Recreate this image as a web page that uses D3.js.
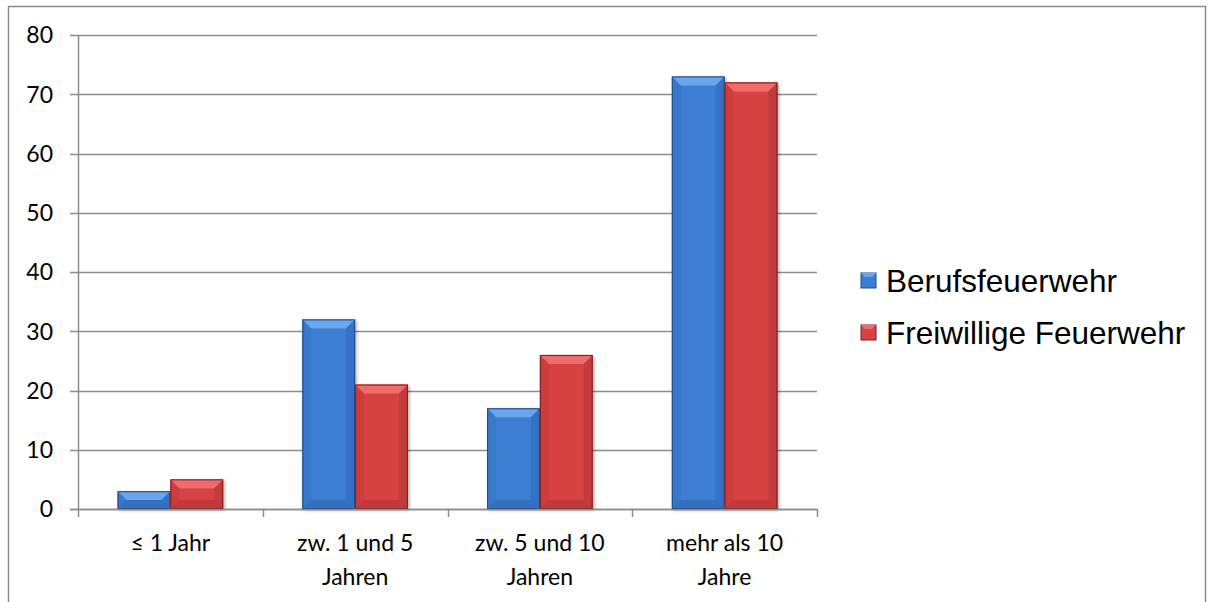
<!DOCTYPE html>
<html><head><meta charset="utf-8">
<script src="https://cdn.jsdelivr.net/npm/d3@7"></script>
<style>body{margin:0;background:#fff}svg{display:block}</style>
</head><body>
<script>
const categories = ["≤ 1 Jahr", "zw. 1 und 5 Jahren", "zw. 5 und 10 Jahren", "mehr als 10 Jahre"];
const categoryLines = [["≤ 1 Jahr"], ["zw. 1 und 5", "Jahren"], ["zw. 5 und 10", "Jahren"], ["mehr als 10", "Jahre"]];
const seriesNames = ["Berufsfeuerwehr", "Freiwillige Feuerwehr"];
const berufsfeuerwehr = [3, 32, 17, 73];
const freiwilligeFeuerwehr = [5, 21, 26, 72];
const yTicks = [0, 10, 20, 30, 40, 50, 60, 70, 80];

(function () {
const W = 1210, H = 602;
const svg = d3.select("body").append("svg").attr("width", W).attr("height", H);

svg.append("rect").attr("x", 8.5).attr("y", 6.5).attr("width", 1197).attr("height", 610)
  .attr("fill", "none").attr("stroke", "#8c8c8c").attr("stroke-width", 1.5);

const pL = 78, pR = 817, pT = 35, pB = 509;
const band = (pR - pL) / categories.length;
const groupW = band * 2 / 3.5;
const x = d3.scaleBand().domain(categories).range([pL, pR]);
const xc = d => x(d) + x.bandwidth() / 2;
const xs = d3.scaleBand().domain(seriesNames).range([0, groupW]);
const y = d3.scaleLinear().domain([0, 80]).range([pB, pT]);
const labelFont = "Lato, 'Open Sans', sans-serif";

svg.append("g").selectAll("line").data(yTicks).join("line")
  .attr("x1", pL - 8).attr("x2", pR).attr("y1", d => Math.round(y(d)) + 0.5).attr("y2", d => Math.round(y(d)) + 0.5)
  .attr("stroke", "#8c8c8c").attr("stroke-width", 1.5);

const yAxis = d3.axisLeft(y).tickValues(yTicks).tickSize(0).tickPadding(0).tickFormat(d3.format("d"));
const gy = svg.append("g").attr("transform", `translate(${pL},0)`).call(yAxis);
gy.select(".domain").attr("stroke", "#8c8c8c").attr("stroke-width", 1.5).attr("d", `M0.5,${pT}V${pB + 8}`);
gy.selectAll("text").attr("x", -25).attr("dy", "0.34em").attr("font-family", labelFont).attr("font-size", 23).attr("fill", "#000");

const xTickPos = categories.map(c => x(c) + x.bandwidth());
svg.append("g").selectAll("line").data(xTickPos).join("line")
  .attr("x1", d => Math.round(d) + 0.5).attr("x2", d => Math.round(d) + 0.5).attr("y1", pB).attr("y2", pB + 8)
  .attr("stroke", "#8c8c8c").attr("stroke-width", 1.5);

const palettes = {
  "Berufsfeuerwehr": {face: "#3d7ed2", top: "#6aa5ee", side: "#3571c4", bot: "#2f65b2", stroke: "#1f4a85"},
  "Freiwillige Feuerwehr": {face: "#d64343", top: "#ee6c6c", side: "#c43a3a", bot: "#b03232", stroke: "#7a2020"}
};
const defs = svg.append("defs");
const flt = defs.append("filter").attr("id", "sh").attr("x", "-20%").attr("y", "-20%").attr("width", "140%").attr("height", "140%");
flt.append("feDropShadow").attr("dx", 1.5).attr("dy", 1.5).attr("stdDeviation", 1.5).attr("flood-color", "#000").attr("flood-opacity", 0.3);

const data = [];
categories.forEach((c, i) => {
  data.push({cat: c, s: seriesNames[0], v: berufsfeuerwehr[i]});
  data.push({cat: c, s: seriesNames[1], v: freiwilligeFeuerwehr[i]});
});

const bars = svg.append("g").selectAll("g").data(data).join("g").attr("filter", "url(#sh)");
bars.each(function (d) {
  const g = d3.select(this);
  const p = palettes[d.s];
  const x0 = xc(d.cat) - groupW / 2 + xs(d.s), w = xs.bandwidth();
  const y0 = y(d.v), y1 = y(0), h = y1 - y0;
  const b = Math.min(9, h / 2, w / 2);
  g.append("rect").attr("x", x0).attr("y", y0).attr("width", w).attr("height", h).attr("fill", p.face);
  g.append("polygon").attr("points", [[x0, y0], [x0 + w, y0], [x0 + w - b, y0 + b], [x0 + b, y0 + b]].join(" ")).attr("fill", p.top);
  g.append("polygon").attr("points", [[x0, y0], [x0 + b, y0 + b], [x0 + b, y1 - b], [x0, y1]].join(" ")).attr("fill", p.side).attr("opacity", 0.5);
  g.append("polygon").attr("points", [[x0 + w, y0], [x0 + w - b, y0 + b], [x0 + w - b, y1 - b], [x0 + w, y1]].join(" ")).attr("fill", p.side);
  g.append("polygon").attr("points", [[x0, y1], [x0 + b, y1 - b], [x0 + w - b, y1 - b], [x0 + w, y1]].join(" ")).attr("fill", p.bot).attr("opacity", 0.6);
  g.append("rect").attr("x", x0 + 0.5).attr("y", y0 + 0.5).attr("width", w - 1).attr("height", h - 1).attr("fill", "none").attr("stroke", p.stroke).attr("stroke-width", 1);
});

svg.append("line").attr("x1", pL - 8).attr("x2", pR).attr("y1", Math.round(y(0)) + 0.5).attr("y2", Math.round(y(0)) + 0.5)
  .attr("stroke", "#8c8c8c").attr("stroke-width", 1.5);

const xl = svg.append("g").attr("font-family", labelFont).attr("font-size", 23).attr("fill", "#000").attr("text-anchor", "middle");
categories.forEach((c, i) => {
  const t = xl.append("text");
  categoryLines[i].forEach((ln, j) => t.append("tspan").attr("x", xc(c)).attr("y", 551 + j * 34).text(ln));
});

const lg = svg.append("g");
seriesNames.forEach((s, i) => {
  const p = palettes[s];
  const yy = 273 + i * 52;
  const g = lg.append("g");
  g.append("rect").attr("x", 861).attr("y", yy).attr("width", 15).attr("height", 15).attr("fill", p.face).attr("stroke", p.stroke);
  g.append("polygon").attr("points", [[861, yy], [876, yy], [872, yy + 4], [865, yy + 4]].join(" ")).attr("fill", p.top);
  g.append("text").attr("x", 886).attr("y", yy + 19).attr("font-family", "'Liberation Sans', Arial, sans-serif").attr("font-size", 31.5).attr("fill", "#000").text(s);
});
})();
</script>
</body></html>
